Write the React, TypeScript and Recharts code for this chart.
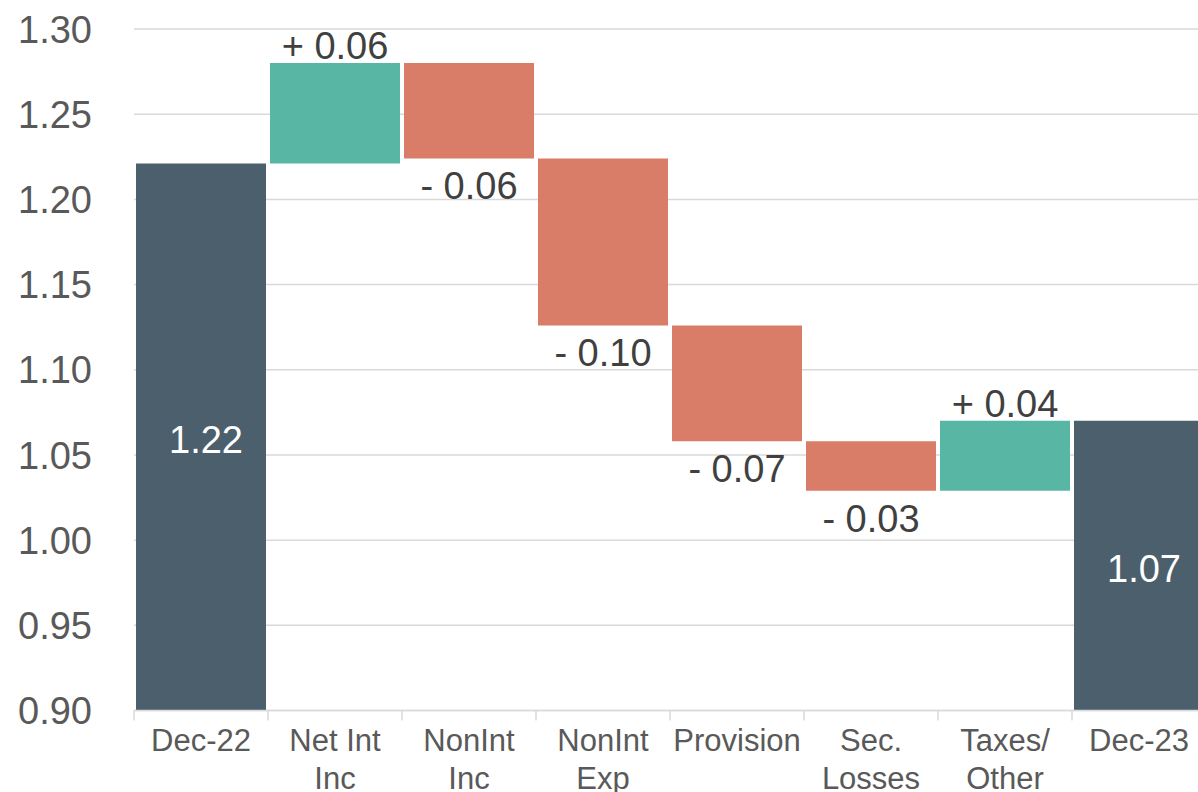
import { BarChart, Bar, XAxis, YAxis, CartesianGrid, Cell, LabelList } from "recharts";

// bridge steps: opening total, changes, closing total
const categories = [
  "Dec-22",
  "Net Int\nInc",
  "NonInt\nInc",
  "NonInt\nExp",
  "Provision",
  "Sec.\nLosses",
  "Taxes/\nOther",
  "Dec-23",
];
const steps = [1.221, 0.059, -0.056, -0.098, -0.068, -0.029, 0.041, 1.07];
const kinds = ["total", "delta", "delta", "delta", "delta", "delta", "delta", "total"];
const yTicks = [0.9, 0.95, 1.0, 1.05, 1.1, 1.15, 1.2, 1.25, 1.3];

const AXIS_MIN = 0.9;
const FONT = '"Liberation Sans", Arial, sans-serif';
const TOTAL_COLOR = "#4b5f6c";
const UP_COLOR = "#58b7a4";
const DOWN_COLOR = "#d97d68";

type Row = { name: string; range: [number, number]; kind: string; step: number };

const rows: Row[] = [];
let running = 0;
categories.forEach((name, i) => {
  const step = steps[i];
  if (kinds[i] === "total") {
    running = step;
    rows.push({ name, range: [AXIS_MIN, step], kind: "total", step });
  } else {
    const from = running;
    running = running + step;
    rows.push({
      name,
      range: [Math.min(from, running), Math.max(from, running)],
      kind: step >= 0 ? "up" : "down",
      step,
    });
  }
});

const colorFor = (r: Row) =>
  r.kind === "total" ? TOTAL_COLOR : r.kind === "up" ? UP_COLOR : DOWN_COLOR;

function CategoryTick(props: any) {
  const { x, y, payload, index } = props;
  const lines = String(payload.value).split("\n");
  const half = 67;
  return (
    <g>
      <line x1={x - half} y1={y} x2={x - half} y2={y + 10} stroke="#d9d9d9" strokeWidth={1.5} />
      {index === categories.length - 1 && (
        <line x1={x + half} y1={y} x2={x + half} y2={y + 10} stroke="#d9d9d9" strokeWidth={1.5} />
      )}
      <text x={x} y={y} textAnchor="middle" fill="#595959" fontSize={31} fontFamily={FONT}>
        {lines.map((l, i) => (
          <tspan key={i} x={x} y={y + 40.5 + i * 38}>
            {l}
          </tspan>
        ))}
      </text>
    </g>
  );
}

function ValueTick(props: any) {
  const { y, payload } = props;
  return (
    <text x={92} y={y + 13.6} textAnchor="end" fill="#595959" fontSize={38} fontFamily={FONT}>
      {Number(payload.value).toFixed(2)}
    </text>
  );
}

function StepLabel(props: any) {
  const { x, y, width, height, index } = props;
  const r = rows[index];
  if (!r) return null;
  const top = Math.min(y, y + height);
  const bottom = Math.max(y, y + height);
  const cx = x + width / 2;
  if (r.kind === "total") {
    return (
      <text x={cx + 5} y={(top + bottom) / 2 + 16} textAnchor="middle" fill="#ffffff" fontSize={38} fontFamily={FONT}>
        {r.step.toFixed(2)}
      </text>
    );
  }
  const text = (r.step >= 0 ? "+ " : "- ") + Math.abs(r.step).toFixed(2);
  const ty = r.kind === "up" ? top - 4 : bottom + 41;
  return (
    <text x={cx} y={ty} textAnchor="middle" fill="#404040" fontSize={38} fontFamily={FONT}>
      {text}
    </text>
  );
}

export default function App() {
  return (
    <div
      style={{
        position: "absolute",
        left: 0,
        top: 0,
        width: 1198,
        height: 792,
        overflow: "hidden",
        background: "#ffffff",
      }}
    >
      <BarChart
        width={1206}
        height={792}
        data={rows}
        margin={{ top: 29, right: 0, left: 0, bottom: 0 }}
        barCategoryGap={2}
      >
        <CartesianGrid vertical={false} stroke="#d9d9d9" strokeWidth={1.5} />
        <XAxis
          dataKey="name"
          height={81.5}
          interval={0}
          tickLine={false}
          tickSize={0}
          tickMargin={0}
          axisLine={{ stroke: "#d9d9d9", strokeWidth: 1.5 }}
          tick={(p: any) => <CategoryTick {...p} />}
        />
        <YAxis
          width={134}
          domain={[0.9, 1.3]}
          ticks={yTicks}
          allowDataOverflow
          axisLine={false}
          tickLine={false}
          tick={(p: any) => <ValueTick {...p} />}
        />
        <Bar dataKey="range" isAnimationActive={false}>
          {rows.map((r, i) => (
            <Cell key={i} fill={colorFor(r)} />
          ))}
          <LabelList dataKey="range" content={(p: any) => <StepLabel {...p} />} />
        </Bar>
      </BarChart>
    </div>
  );
}
